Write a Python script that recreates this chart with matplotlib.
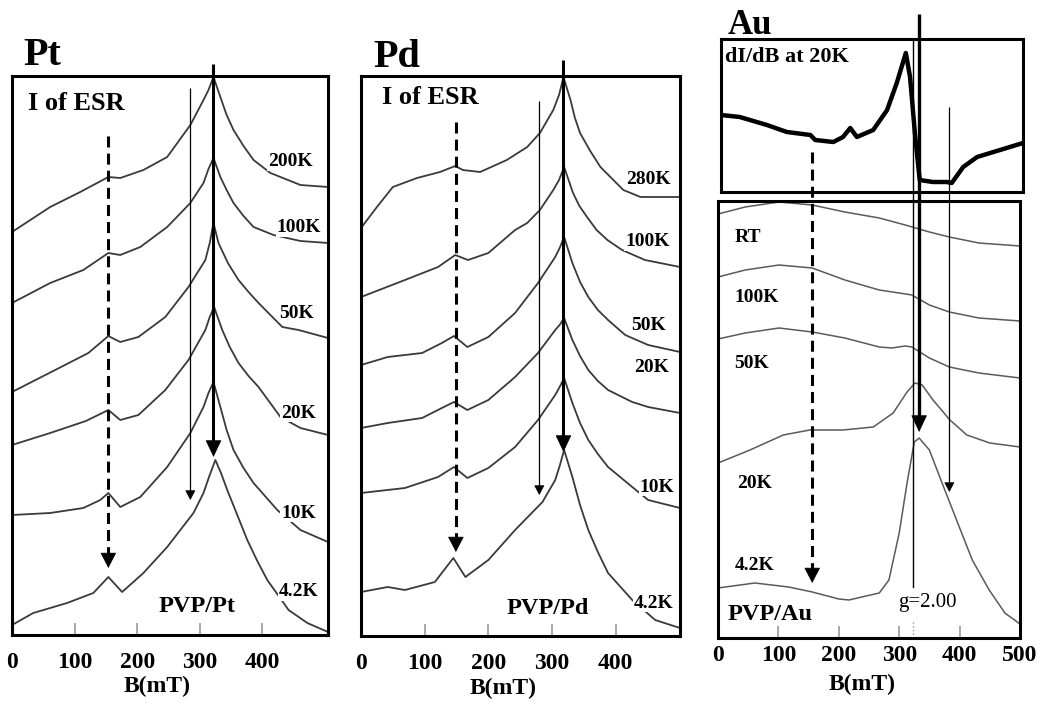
import matplotlib
matplotlib.use('Agg')
import matplotlib.pyplot as plt

# ---------------------------------------------------------------------------
# Data: B in mT, intensity in arbitrary units (offset).
# ---------------------------------------------------------------------------
pt_temps = ['200K', '100K', '50K', '20K', '10K', '4.2K']

pt_200k_b = [0, 61, 109, 154, 173, 210, 248, 285, 306, 314, 322, 333, 343, 354, 370, 386, 413, 461, 505]
pt_200k_i = [403, 428, 443, 458, 457, 465, 478, 510, 535, 545, 558, 538, 520, 505, 489, 475, 462, 450, 448]
pt_100k_b = [0, 61, 114, 154, 173, 205, 248, 285, 306, 314, 322, 333, 343, 354, 370, 386, 418, 461, 505]
pt_100k_i = [332, 352, 365, 382, 380, 388, 408, 432, 452, 466, 477, 458, 445, 432, 419, 408, 400, 394, 392]
pt_50k_b = [0, 69, 122, 154, 173, 202, 245, 282, 309, 316, 322, 330, 345, 362, 378, 394, 432, 458, 505]
pt_50k_i = [243, 265, 282, 299, 293, 298, 318, 348, 375, 392, 412, 392, 372, 355, 343, 332, 308, 305, 297]
pt_20k_b = [0, 61, 118, 154, 173, 202, 245, 282, 309, 316, 323, 336, 348, 362, 378, 394, 429, 461, 505]
pt_20k_i = [190, 202, 214, 225, 215, 220, 245, 275, 305, 318, 328, 305, 288, 272, 259, 248, 218, 207, 200]
pt_10k_b = [0, 61, 114, 141, 154, 173, 205, 248, 285, 306, 314, 322, 333, 343, 354, 370, 386, 424, 461, 505]
pt_10k_i = [120, 122, 127, 135, 142, 128, 138, 168, 202, 228, 242, 253, 228, 205, 185, 167, 152, 125, 105, 93]
pt_4k_b = [0, 34, 88, 130, 154, 176, 210, 248, 290, 306, 316, 325, 334, 344, 360, 376, 392, 408, 442, 472, 505]
pt_4k_i = [10, 22, 32, 42, 58, 43, 62, 88, 122, 142, 160, 175, 162, 145, 120, 95, 74, 55, 25, 12, 3]

pd_temps = ['280K', '100K', '50K', '20K', '10K', '4.2K']

pd_280k_b = [0, 25, 50, 88, 124, 148, 160, 187, 229, 261, 281, 302, 311, 318, 329, 336, 344, 360, 376, 412, 439, 501]
pd_280k_i = [408, 429, 449, 458, 464, 470, 466, 464, 476, 489, 503, 526, 541, 559, 536, 518, 503, 485, 469, 446, 439, 439]
pd_100k_b = [0, 69, 121, 148, 168, 200, 242, 261, 281, 302, 311, 319, 333, 343, 355, 370, 387, 410, 446, 501]
pd_100k_i = [339, 356, 369, 381, 376, 383, 406, 413, 426, 446, 456, 469, 443, 430, 419, 406, 396, 386, 376, 369]
pd_50k_b = [0, 42, 96, 127, 146, 167, 200, 242, 278, 305, 312, 319, 332, 344, 357, 372, 388, 415, 451, 501]
pd_50k_i = [271, 279, 283, 293, 300, 289, 299, 323, 353, 379, 388, 399, 373, 354, 339, 326, 316, 301, 291, 284]
pd_20k_b = [0, 42, 96, 127, 146, 167, 200, 242, 278, 305, 312, 319, 332, 344, 357, 372, 388, 426, 451, 501]
pd_20k_i = [208, 213, 218, 228, 234, 226, 236, 259, 283, 306, 311, 318, 296, 280, 266, 255, 246, 234, 229, 223]
pd_10k_b = [0, 69, 121, 146, 167, 200, 242, 278, 305, 312, 319, 332, 344, 357, 372, 388, 426, 451, 501]
pd_10k_i = [143, 148, 159, 169, 158, 168, 189, 216, 241, 249, 258, 233, 213, 196, 182, 169, 149, 136, 128]
pd_4k_b = [0, 42, 69, 116, 145, 164, 200, 242, 285, 305, 312, 319, 332, 344, 357, 372, 388, 426, 462, 501]
pd_4k_i = [44, 49, 46, 54, 78, 59, 76, 106, 134, 156, 170, 186, 159, 131, 106, 84, 63, 36, 16, 8]

au_temps = ['RT', '100K', '50K', '20K', '4.2K']

au_rt_b = [0, 45, 101, 156, 210, 267, 310, 350, 383, 432, 500]
au_rt_i = [424, 431, 436, 433, 426, 420, 413, 406, 401, 395, 392]
au_100k_b = [0, 45, 101, 156, 210, 267, 300, 321, 350, 383, 432, 500]
au_100k_i = [361, 368, 373, 370, 358, 348, 345, 343, 333, 326, 320, 317]
au_50k_b = [0, 45, 101, 156, 210, 267, 288, 310, 321, 350, 383, 432, 500]
au_50k_i = [299, 305, 310, 306, 300, 291, 290, 292, 291, 280, 271, 265, 260]
au_20k_b = [0, 53, 108, 152, 207, 257, 290, 313, 326, 338, 356, 384, 412, 450, 500]
au_20k_i = [175, 188, 203, 208, 208, 211, 225, 246, 255, 253, 238, 218, 203, 195, 191]
au_4k_b = [0, 61, 117, 156, 200, 217, 238, 267, 283, 300, 313, 325, 333, 350, 371, 393, 421, 449, 475, 500]
au_4k_i = [50, 55, 51, 46, 39, 38, 41, 45, 58, 105, 155, 196, 200, 188, 155, 121, 78, 48, 25, 14]

# derivative spectrum dI/dB at 20K (inset)
au_d_b = [0, 31, 76, 109, 148, 156, 186, 202, 214, 225, 252, 275, 291, 306, 313,
          321, 329, 351, 374, 382, 401, 424, 462, 500]
au_d_i = [77, 75, 67, 60, 57, 52, 50, 55, 64, 55, 62, 82, 109, 139, 115,
          59, 12, 10, 10, 9, 25, 35, 42, 49]

# marker field positions (mT) of the arrows
pt_arrow_b = [154, 285, 322]
pd_arrow_b = [149, 280, 318]
au_arrow_b = [156, 383, 333]
au_g_b = 323

# ---------------------------------------------------------------------------
FIG_W, FIG_H = 1047, 704
plt.rcParams['font.family'] = ['Liberation Serif', 'DejaVu Serif']
plt.rcParams['font.weight'] = 'bold'
CURVE = dict(color='#3a3a3a', lw=1.3)
PX = 100 / 72  # data units (pixels) per point


def box(left, top, right, bottom):
    return [left / FIG_W, 1 - bottom / FIG_H, (right - left) / FIG_W, (bottom - top) / FIG_H]


def setup(ax, xmax, ymax, ticks, pad=12):
    ax.set_xlim(0, xmax)
    ax.set_ylim(0, ymax)
    ax.set_yticks([])
    ax.set_xticks(ticks)
    ax.set_xticklabels([str(t) for t in ticks], fontsize=17, fontweight='bold')
    ax.tick_params(axis='x', direction='in', length=8.5, width=1.2,
                   color='#9a9a9a', pad=pad)
    for s in ax.spines.values():
        s.set_linewidth(2.2)


def arrow(ax, x, y0, y1, lw, hl, hw, ls='-'):
    base = y1 + hl * PX
    ax.plot([x, x], [y0, base + 1], color='k', lw=lw, ls=ls, clip_on=False,
            solid_capstyle='butt', zorder=4)
    ax.annotate('', xy=(x, y1), xytext=(x, base), annotation_clip=False,
                arrowprops=dict(arrowstyle=f'-|>,head_length={hl},head_width={hw}',
                                mutation_scale=1, lw=0.6, color='k',
                                shrinkA=0, shrinkB=0), zorder=5)


def temp_label(ax, x, y, s, ha='center'):
    ax.text(x, y, s, fontsize=14, fontweight='bold', ha=ha, va='center', zorder=3,
            bbox=dict(facecolor='white', edgecolor='none', pad=0.6))


DASH = (0, (3.6, 2.0))

fig = plt.figure(figsize=(FIG_W / 100, FIG_H / 100), dpi=100)

# ---------------------------- Pt ----------------------------
ax = fig.add_axes(box(12, 76, 328, 635))
setup(ax, 505, 559, [0, 100, 200, 300, 400])
pt_curves = [(pt_200k_b, pt_200k_i), (pt_100k_b, pt_100k_i), (pt_50k_b, pt_50k_i),
             (pt_20k_b, pt_20k_i), (pt_10k_b, pt_10k_i), (pt_4k_b, pt_4k_i)]
for b, i in pt_curves:
    ax.plot(b, i, **CURVE)
pt_label_pos = [(445, 473), (458, 407), (454, 322), (458, 222), (458, 122), (458, 43)]
for (x, y), t in zip(pt_label_pos, pt_temps):
    temp_label(ax, x, y, t)
arrow(ax, pt_arrow_b[0], 499, 67, 2.2, 10, 5.2, DASH)
arrow(ax, pt_arrow_b[1], 547, 135, 0.9, 6, 3.2)
arrow(ax, pt_arrow_b[2], 571, 178, 2.2, 11, 5.2)
ax.text(26, 532, 'I of ESR', fontsize=19, fontweight='bold', va='center')
ax.text(296, 28, 'PVP/Pt', fontsize=17.5, fontweight='bold', ha='center', va='center')
ax.text(0.035, 1.02, 'Pt', transform=ax.transAxes, fontsize=29, fontweight='bold', va='baseline')
ax.set_xlabel('B(mT)', fontsize=17, fontweight='bold')
ax.xaxis.set_label_coords(0.46, -0.074)

# ---------------------------- Pd ----------------------------
ax = fig.add_axes(box(361, 76, 680, 636))
setup(ax, 501, 560, [0, 100, 200, 300, 400])
pd_curves = [(pd_280k_b, pd_280k_i), (pd_100k_b, pd_100k_i), (pd_50k_b, pd_50k_i),
             (pd_20k_b, pd_20k_i), (pd_10k_b, pd_10k_i), (pd_4k_b, pd_4k_i)]
for b, i in pd_curves:
    ax.plot(b, i, **CURVE)
pd_label_pos = [(451, 456), (450, 394), (451, 310), (457, 269), (465, 149), (459, 33)]
for (x, y), t in zip(pd_label_pos, pd_temps):
    temp_label(ax, x, y, t)
arrow(ax, pd_arrow_b[0], 514, 84, 2.2, 10, 5.2, DASH)
arrow(ax, pd_arrow_b[1], 535, 141, 0.9, 6, 3.2)
arrow(ax, pd_arrow_b[2], 576, 184, 2.2, 11, 5.2)
ax.text(33, 538, 'I of ESR', fontsize=19, fontweight='bold', va='center')
ax.text(294, 28, 'PVP/Pd', fontsize=17.5, fontweight='bold', ha='center', va='center')
ax.text(0.038, 1.016, 'Pd', transform=ax.transAxes, fontsize=29, fontweight='bold', va='baseline')
ax.set_xlabel('B(mT)', fontsize=17, fontweight='bold')
ax.xaxis.set_label_coords(0.445, -0.074)

# ---------------------------- Au ----------------------------
axi = fig.add_axes(box(721, 39, 1023, 192))
axi.set_xlim(0, 500)
axi.set_ylim(0, 153)
axi.set_xticks([])
axi.set_yticks([])
for s in axi.spines.values():
    s.set_linewidth(2.2)
axi.plot(au_d_b, au_d_i, color='k', lw=3.2)
axi.text(7, 135, 'dI/dB at 20K', fontsize=16, fontweight='bold', va='center')
axi.text(0.023, 1.033, 'Au', transform=axi.transAxes, fontsize=25, fontweight='bold',
         va='baseline')

ax = fig.add_axes(box(718, 201, 1020, 638))
setup(ax, 500, 437, [0, 100, 200, 300, 400, 500], pad=5)
au_curves = [(au_rt_b, au_rt_i), (au_100k_b, au_100k_i), (au_50k_b, au_50k_i),
             (au_20k_b, au_20k_i), (au_4k_b, au_4k_i)]
for b, i in au_curves:
    ax.plot(b, i, color='#5a5a5a', lw=1.1)
au_label_pos = [(28, 401), (28, 340), (26, 275), (31, 155), (28, 73)]
for (x, y), t in zip(au_label_pos, au_temps):
    ax.text(x, y, t, fontsize=14, fontweight='bold', va='center')
arrow(ax, au_arrow_b[0], 486, 55, 2.2, 10, 5.2, DASH)
arrow(ax, au_arrow_b[1], 531, 146, 0.9, 6, 3.2)
ax.plot([au_g_b, au_g_b], [599, 51], color='k', lw=1.0, clip_on=False, zorder=4)
ax.plot([au_g_b, au_g_b], [16, 2], color='#999999', lw=1.0, ls=':', zorder=4)
arrow(ax, au_arrow_b[2], 624, 206, 2.4, 11, 5.2)
ax.text(346, 35, 'g=2.00', fontsize=15, fontweight='normal', ha='center', va='center')
ax.text(15, 23, 'PVP/Au', fontsize=17.5, fontweight='bold', va='center')
ax.set_xlabel('B(mT)', fontsize=17, fontweight='bold')
ax.xaxis.set_label_coords(0.477, -0.082)

fig.savefig('out.png', dpi=100, facecolor='white')
